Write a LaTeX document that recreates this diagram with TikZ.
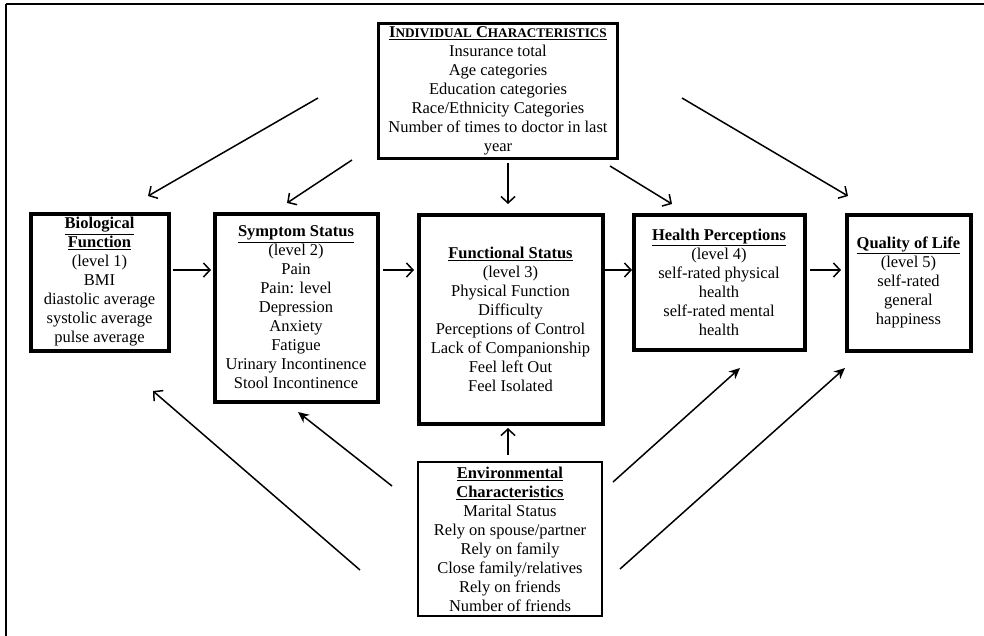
\documentclass[tikz,border=0pt]{standalone}
\usepackage{fontspec}
\setmainfont{Liberation Serif}
\usetikzlibrary{arrows.meta}
\begin{document}
\begin{tikzpicture}[x=1pt,y=-1pt,
  box/.style={draw, line width=4pt, inner sep=0pt, align=center,
    font=\fontsize{16.5}{19}\selectfont},
  arr/.style={line width=1.5pt, -{Straight Barb[length=6.5pt,width=14pt,line width=1.5pt]}},
  arrf/.style={line width=1.5pt, -{Stealth[length=11pt,width=10pt]}}]
\useasboundingbox (0,0) rectangle (984,635);
\draw[line width=2.5pt] (6,4) -- (990,4);
\draw[line width=2pt] (6,4) -- (6,640);

\node[box, line width=3.5pt, minimum width=239pt, minimum height=135pt] (ind) at (498,91)
 {\underline{\textbf{I{\fontsize{13.2}{19}\selectfont NDIVIDUAL} C{\fontsize{13.2}{19}\selectfont HARACTERISTICS}}}\\
  Insurance total\\ Age categories\\ Education categories\\ Race/Ethnicity Categories\\
  Number of times to doctor in last\\ year};
\node[box, minimum width=138pt, minimum height=137pt] (bio) at (99.5,282)
 {\underline{\textbf{Biological}}\\ \underline{\textbf{Function}}\\ (level 1)\\ BMI\\ diastolic average\\ systolic average\\ pulse average};
\node[box, minimum width=163pt, minimum height=188pt] (sym) at (296,307.5)
 {\underline{\textbf{Symptom Status}}\\ (level 2)\\ Pain\\ Pain: level\\ Depression\\ Anxiety\\ Fatigue\\ Urinary Incontinence\\ Stool Incontinence};
\node[box, minimum width=184pt, minimum height=209pt] (fun) at (510.5,319)
 {\underline{\textbf{Functional Status}}\\ (level 3)\\ Physical Function\\ Difficulty\\ Perceptions of Control\\ Lack of Companionship\\ Feel left Out\\ Feel Isolated};
\node[box, minimum width=171pt, minimum height=135pt] (hea) at (719,282)
 {\underline{\textbf{Health Perceptions}}\\ (level 4)\\ self-rated physical\\ health\\ self-rated mental\\ health};
\node[box, minimum width=124pt, minimum height=136pt] (qua) at (908.5,282.5)
 {\underline{\textbf{Quality of Life}}\\ (level 5)\\ self-rated\\ general\\ happiness};
\node[box, line width=2.5pt, minimum width=184pt, minimum height=154pt] (env) at (510,539)
 {\underline{\textbf{Environmental}}\\ \underline{\textbf{Characteristics}}\\ Marital Status\\ Rely on spouse/partner\\ Rely on family\\ Close family/relatives\\ Rely on friends\\ Number of friends};

% arrow end points
\coordinate (a1s) at (318,98);  \coordinate (a1e) at (148,196);
\coordinate (a2s) at (352,160); \coordinate (a2e) at (287,203);
\coordinate (a3s) at (508,163); \coordinate (a3e) at (508,204);
\coordinate (a4s) at (610,166); \coordinate (a4e) at (672,204);
\coordinate (a5s) at (682,98);  \coordinate (a5e) at (848,196);
\coordinate (b1s) at (173,270); \coordinate (b1e) at (211,270);
\coordinate (b2s) at (383,270); \coordinate (b2e) at (414,270);
\coordinate (b3e) at (632,270);
\coordinate (b4s) at (810,270); \coordinate (b4e) at (841,270);
\coordinate (c1s) at (508,455); \coordinate (c1e) at (508,428);
\coordinate (c2s) at (360,570); \coordinate (c2e) at (153,391);
\coordinate (c3s) at (392,486); \coordinate (c3e) at (298,412);
\coordinate (c4s) at (613,482); \coordinate (c4e) at (740,368);
\coordinate (c5s) at (620,569); \coordinate (c5e) at (845,368);

\draw[arr] (a1s) -- (a1e);
\draw[arr] (a2s) -- (a2e);
\draw[arr] (a3s) -- (a3e);
\draw[arr] (a4s) -- (a4e);
\draw[arr] (a5s) -- (a5e);
\draw[arr] (b1s) -- (b1e);
\draw[arr] (b2s) -- (b2e);
\draw[arr] (fun.east |- b3e) -- (b3e);
\draw[arr] (b4s) -- (b4e);
\draw[arr] (c1s) -- (c1e);
\draw[arr] (c2s) -- (c2e);
\draw[arrf] (c3s) -- (c3e);
\draw[arrf] (c4s) -- (c4e);
\draw[arrf] (c5s) -- (c5e);
\end{tikzpicture}
\end{document}
